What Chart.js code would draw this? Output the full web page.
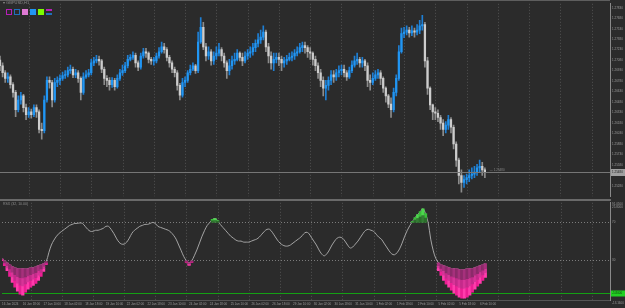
<!DOCTYPE html>
<html><head><meta charset="utf-8">
<script src="https://cdn.jsdelivr.net/npm/chart.js@4.4.1/dist/chart.umd.min.js"></script>
<style>
html,body{margin:0;padding:0;background:#2b2b2b;}
body{width:625px;height:308px;position:relative;overflow:hidden;font-family:"Liberation Sans",sans-serif;}
canvas{position:absolute;left:0;display:block}
#main{top:0}
#ind{top:199px}
.t{position:absolute;color:#8c8c8c;white-space:nowrap;line-height:1}
.sq{position:absolute;top:9px;width:6px;height:6px;box-sizing:border-box}
</style></head><body>
<canvas id="main" width="625" height="200"></canvas>
<canvas id="ind" width="625" height="109"></canvas>
<div style="position:absolute;left:0;top:199px;width:611px;height:2px;background:#6a6a6a"></div>
<div class="t" style="left:3px;top:1px;font-size:4px">▾ GBPUSD,H1</div>
<div class="sq" style="left:6px;border:1px solid #b81fb8"></div>
<div class="sq" style="left:14px;border:1px solid #1f70bd"></div>
<div class="sq" style="left:22px;background:#e07ad4"></div>
<div class="sq" style="left:30px;background:#2196f3"></div>
<div class="sq" style="left:38px;background:#7cfc00"></div>
<div class="sq" style="left:46px;height:2px;background:#b81fb8"></div>
<div class="sq" style="left:46px;top:13px;height:2px;background:#1f70bd"></div>
<div class="t" style="left:3px;top:202.5px;font-size:3.5px">RSX (32, 10.00)</div>
<script>
// ---------- data ----------
const priceTicks = [1.27830,1.27680,1.27530,1.27380,1.27230,1.27080,1.26930,1.26780,1.26630,1.26480,1.26330,1.26180,1.26030,1.25880,1.25730,1.25580,1.25430,1.25280];
const timeLabels = ["16 Jan 2024","16 Jan 18:00","17 Jan 10:00","18 Jan 02:00","18 Jan 18:00","19 Jan 10:00","22 Jan 02:00","22 Jan 18:00","23 Jan 10:00","24 Jan 02:00","24 Jan 18:00","25 Jan 10:00","26 Jan 02:00","26 Jan 18:00","29 Jan 10:00","30 Jan 02:00","30 Jan 18:00","31 Jan 10:00","1 Feb 02:00","1 Feb 18:00","2 Feb 10:00","5 Feb 02:00","5 Feb 18:00","6 Feb 10:00"];
const firstOpen = 1.2708;
const closes = [
1.2700,1.2690,1.2682,1.2684,1.2673,1.2662,1.2637,1.2651,1.2657,1.2640,1.2630,
1.2634,1.2630,1.2640,1.2634,1.2609,1.2607,1.2651,1.2679,1.2676,1.2651,1.2676,1.2679,
1.2682,1.2686,1.2687,1.2693,1.2695,1.2687,1.2690,1.2682,1.2662,1.2684,1.2687,1.2690,
1.2704,1.2707,1.2709,1.2707,1.2695,1.2682,1.2679,1.2673,1.2679,1.2670,1.2682,1.2690,
1.2693,1.2700,1.2709,1.2712,1.2715,1.2704,1.2698,1.2714,1.2720,1.2718,1.2709,1.2707,
1.2707,1.2714,1.2720,1.2727,1.2723,1.2712,1.2704,1.2695,1.2690,1.2672,1.2658,1.2676,
1.2679,1.2690,1.2695,1.2700,1.2693,1.2734,1.2755,1.2727,1.2714,1.2720,1.2707,1.2714,
1.2718,1.2723,1.2714,1.2704,1.2693,1.2700,1.2707,1.2709,1.2718,1.2712,1.2707,1.2714,
1.2718,1.2720,1.2726,1.2732,1.2737,1.2741,1.2748,1.2727,1.2714,1.2704,1.2709,1.2712,
1.2709,1.2704,1.2707,1.2709,1.2712,1.2714,1.2718,1.2720,1.2726,1.2729,1.2726,1.2720,
1.2718,1.2709,1.2700,1.2690,1.2679,1.2668,1.2672,1.2679,1.2687,1.2684,1.2690,1.2693,
1.2695,1.2690,1.2684,1.2693,1.2701,1.2707,1.2709,1.2704,1.2707,1.2700,1.2679,1.2676,
1.2682,1.2687,1.2690,1.2682,1.2668,1.2657,1.2645,1.2637,1.2662,1.2682,1.2720,1.2746,
1.2748,1.2751,1.2747,1.2750,1.2748,1.2751,1.2757,1.2759,1.2707,1.2668,1.2644,1.2634,
1.2632,1.2626,1.2618,1.2609,1.2615,1.2623,1.2612,1.2588,1.2565,1.2543,1.2533,1.2537,
1.2540,1.2543,1.2545,1.2548,1.2554,1.2556,1.2551,1.2548];
const highs = [
1.2714,1.2704,1.2693,1.2690,1.2687,1.2676,1.2665,1.2657,1.2662,1.2659,1.2645,
1.2640,1.2638,1.2644,1.2644,1.2637,1.2618,1.2657,1.2684,1.2684,1.2679,1.2682,1.2684,
1.2687,1.2691,1.2693,1.2698,1.2701,1.2698,1.2695,1.2693,1.2684,1.2690,1.2693,1.2695,
1.2709,1.2712,1.2715,1.2714,1.2709,1.2698,1.2686,1.2683,1.2683,1.2682,1.2687,1.2695,
1.2701,1.2705,1.2715,1.2716,1.2720,1.2718,1.2707,1.2718,1.2725,1.2725,1.2720,1.2712,
1.2712,1.2718,1.2726,1.2734,1.2732,1.2726,1.2715,1.2707,1.2698,1.2693,1.2675,1.2682,
1.2684,1.2693,1.2701,1.2704,1.2702,1.2748,1.2769,1.2762,1.2732,1.2727,1.2723,1.2720,
1.2727,1.2732,1.2726,1.2718,1.2707,1.2709,1.2714,1.2718,1.2723,1.2720,1.2718,1.2720,
1.2723,1.2727,1.2732,1.2737,1.2746,1.2751,1.2757,1.2751,1.2732,1.2720,1.2718,1.2718,
1.2718,1.2714,1.2712,1.2715,1.2718,1.2720,1.2723,1.2727,1.2732,1.2734,1.2734,1.2729,
1.2726,1.2720,1.2714,1.2704,1.2695,1.2684,1.2679,1.2684,1.2693,1.2693,1.2695,1.2700,
1.2701,1.2701,1.2693,1.2698,1.2707,1.2714,1.2718,1.2712,1.2712,1.2709,1.2704,1.2687,
1.2690,1.2693,1.2695,1.2693,1.2684,1.2670,1.2659,1.2654,1.2668,1.2687,1.2729,1.2754,
1.2755,1.2757,1.2755,1.2757,1.2754,1.2759,1.2765,1.2772,1.2762,1.2712,1.2670,1.2645,
1.2640,1.2637,1.2629,1.2623,1.2620,1.2629,1.2626,1.2615,1.2591,1.2568,1.2551,1.2543,
1.2545,1.2551,1.2554,1.2556,1.2559,1.2565,1.2562,1.2554];
const lows = [
1.2693,1.2684,1.2676,1.2676,1.2668,1.2655,1.2627,1.2634,1.2645,1.2634,1.2623,
1.2626,1.2625,1.2627,1.2626,1.2604,1.2595,1.2604,1.2648,1.2668,1.2641,1.2648,1.2670,
1.2673,1.2679,1.2682,1.2684,1.2689,1.2683,1.2683,1.2676,1.2651,1.2659,1.2682,1.2684,
1.2687,1.2700,1.2704,1.2701,1.2690,1.2673,1.2670,1.2665,1.2669,1.2665,1.2668,1.2679,
1.2686,1.2690,1.2697,1.2707,1.2709,1.2698,1.2693,1.2695,1.2711,1.2712,1.2704,1.2702,
1.2701,1.2704,1.2711,1.2718,1.2718,1.2707,1.2698,1.2690,1.2684,1.2665,1.2651,1.2655,
1.2670,1.2676,1.2687,1.2693,1.2689,1.2690,1.2732,1.2723,1.2707,1.2709,1.2701,1.2702,
1.2709,1.2714,1.2707,1.2698,1.2682,1.2687,1.2695,1.2702,1.2707,1.2707,1.2700,1.2704,
1.2709,1.2712,1.2715,1.2720,1.2727,1.2732,1.2737,1.2720,1.2704,1.2695,1.2693,1.2704,
1.2700,1.2693,1.2698,1.2702,1.2707,1.2707,1.2709,1.2714,1.2718,1.2720,1.2718,1.2712,
1.2709,1.2701,1.2693,1.2682,1.2670,1.2657,1.2651,1.2665,1.2673,1.2676,1.2679,1.2684,
1.2687,1.2684,1.2679,1.2682,1.2690,1.2698,1.2702,1.2698,1.2698,1.2693,1.2670,1.2665,
1.2673,1.2679,1.2682,1.2673,1.2662,1.2648,1.2640,1.2626,1.2634,1.2657,1.2679,1.2718,
1.2740,1.2744,1.2741,1.2743,1.2741,1.2744,1.2746,1.2751,1.2698,1.2659,1.2637,1.2623,
1.2623,1.2620,1.2609,1.2600,1.2604,1.2609,1.2604,1.2581,1.2556,1.2531,1.2519,1.2526,
1.2531,1.2534,1.2538,1.2540,1.2543,1.2548,1.2543,1.2540];
const rsx = [
31.1,28.9,26.8,24.7,22.6,21.6,20.5,20.5,20.5,20.5,20.5,
21.6,21.6,22.6,23.7,24.7,25.8,27.9,37.4,45.8,51.1,55.3,58.4,
60.5,62.6,64.7,66.8,67.9,68.9,68.9,69.5,68.9,65.8,62.6,60.5,
60.5,61.6,61.6,62.6,63.7,65.8,65.8,62.6,58.4,53.2,48.9,46.8,
46.8,48.9,53.2,58.4,61.6,63.7,65.8,66.8,67.9,67.9,68.9,70.0,
68.9,65.8,64.7,63.7,62.6,61.6,59.5,56.3,52.1,45.8,39.5,33.2,
28.9,26.8,28.9,34.2,40.5,47.9,55.3,61.6,66.8,70.0,73.2,74.2,
72.1,67.9,64.7,61.6,58.4,55.3,53.2,51.1,50.0,50.0,48.9,48.9,
48.9,50.0,51.1,52.1,54.2,57.4,60.5,62.6,62.6,59.5,55.3,51.1,
47.9,45.8,44.7,44.7,45.8,47.9,50.0,52.1,54.2,57.4,59.5,58.4,
54.2,50.0,45.8,40.5,36.3,34.2,36.3,40.5,45.8,50.0,53.2,54.2,
53.2,50.0,45.8,42.6,43.7,46.8,50.0,54.2,58.4,61.6,62.6,61.6,
60.5,57.4,54.2,52.1,47.9,43.7,39.5,36.3,35.3,37.4,41.6,47.9,
55.3,61.6,66.8,71.1,75.3,78.4,81.6,84.7,79.5,70.0,52.1,39.5,
31.1,26.8,24.7,23.7,22.6,21.6,20.5,20.5,20.5,19.5,19.5,19.5,
20.5,20.5,20.5,21.6,22.6,23.7,24.7,25.8];
const rsxDeepA = [28.9,23.7,18.4,12.1,5.8,0.5,-3.7,-6.8,-7.9,-4.7,-1.6,0.5,2.6,4.7,7.9,12.1,17.4,24.7];
const rsxDeepB = [27.0,24.0,27.0];
const rsxDeepC = [18.4,13.2,7.9,3.7,0.5,-2.6,-5.8,-7.9,-10.0,-11.1,-11.1,-10.0,-7.9,-4.7,-1.6,1.6,4.7,7.9,11.1];
const rsxDeep = [...rsxDeepA, ...Array(53).fill(null), ...rsxDeepB, ...Array(94).fill(null), ...rsxDeepC];
const rsxLevels = [70, 30];
const signalValue = -5.8;

// ---------- setup ----------
const N_SLOTS = 235;
const slots = Array.from({length:N_SLOTS},(_,i)=>String(i));
const opens = closes.map((c,i)=> i===0 ? firstOpen : closes[i-1]);
const up = closes.map((c,i)=> c>=opens[i]);
const isDayStart = s => (2*s+2)%24===0;
const FONT = 'Liberation Sans';

const gridPlugin = {id:'mtGrid', beforeDatasetsDraw(chart){
  const {ctx, chartArea:a, scales:{x}} = chart;
  ctx.save(); ctx.strokeStyle='#525252'; ctx.lineWidth=1; ctx.setLineDash([1,2]);
  for(let s=0;s<N_SLOTS;s++){ if(!isDayStart(s)) continue;
    const px=Math.round(x.getPixelForValue(s))+0.5;
    ctx.beginPath(); ctx.moveTo(px,a.top); ctx.lineTo(px,a.bottom); ctx.stroke(); }
  ctx.restore();
}};

const pricePlugin = {id:'mtPrice', afterDatasetsDraw(chart){
  const {ctx, chartArea:a, scales:{x,y}} = chart;
  const last = closes[closes.length-1];
  const py = Math.round(y.getPixelForValue(last))+0.5;
  ctx.save();
  ctx.strokeStyle='#767676'; ctx.lineWidth=1;
  ctx.beginPath(); ctx.moveTo(a.left,py); ctx.lineTo(a.right,py); ctx.stroke();
  ctx.strokeStyle='#5e5e5e';
  ctx.beginPath(); ctx.moveTo(0,0.5); ctx.lineTo(a.right,0.5); ctx.stroke();
  ctx.fillStyle='#a0a0a0'; ctx.fillRect(a.right+1, py-3.5, 14, 7);
  ctx.font='3px "'+FONT+'"'; ctx.textBaseline='middle'; ctx.textAlign='left';
  ctx.fillStyle='#1c1c1c'; ctx.fillText(last.toFixed(5), a.right+2, py);
  const lx = x.getPixelForValue(closes.length-1)+5;
  ctx.fillStyle='#8a8a8a'; ctx.fillText('— '+last.toFixed(5), lx, py-2);
  ctx.restore();
}};

new Chart(document.getElementById('main'), {
  type:'bar',
  data:{labels:slots, datasets:[
    {data: closes.map((c,i)=>[Math.min(lows[i],opens[i],c), Math.max(highs[i],opens[i],c)]),
     backgroundColor: up.map(u=>u?'#1e7fd4':'#8c8c8c'), barThickness:1, grouped:false, order:2},
    {data: closes.map((c,i)=>[opens[i], c]),
     backgroundColor: up.map(u=>u?'#2196f3':'#cdcdcd'), barThickness:1.6, minBarLength:1, grouped:false, order:1}
  ]},
  options:{responsive:false, animation:false, events:[],
    layout:{padding:{top:1,bottom:1,left:0,right:0}},
    plugins:{legend:{display:false}, tooltip:{enabled:false}},
    scales:{
      x:{type:'category', display:false, offset:false},
      y:{position:'right', min:1.251339, max:1.278861,
         afterBuildTicks:s=>{s.ticks = priceTicks.map(v=>({value:v}));},
         afterFit:s=>{s.width=15;},
         grid:{display:false, drawTicks:false},
         border:{display:true, color:'#8a8a8a', width:1},
         ticks:{padding:2, color:'#9a9a9a', font:{size:3, family:FONT}, callback:v=>Number(v).toFixed(5)}}
    }},
  plugins:[gridPlugin, pricePlugin]
});

const indPlugin = {id:'mtInd', beforeDatasetsDraw(chart){
  const {ctx, chartArea:a, scales:{y}} = chart;
  ctx.save(); ctx.strokeStyle='#7c7c7c'; ctx.lineWidth=1; ctx.setLineDash([1,2]);
  rsxLevels.forEach(v=>{ const py=Math.round(y.getPixelForValue(v))+0.5;
    ctx.beginPath(); ctx.moveTo(a.left,py); ctx.lineTo(a.right,py); ctx.stroke(); });
  ctx.setLineDash([]);
  const gy=Math.round(y.getPixelForValue(signalValue))+0.5;
  ctx.strokeStyle='#14a014'; ctx.beginPath(); ctx.moveTo(a.left,gy); ctx.lineTo(a.right,gy); ctx.stroke();
  ctx.strokeStyle='#555'; ctx.beginPath(); ctx.moveTo(0,a.bottom+0.5); ctx.lineTo(a.right,a.bottom+0.5); ctx.stroke();
  ctx.restore();
}, afterDatasetsDraw(chart){
  const {ctx, chartArea:a, scales:{y}} = chart;
  const gy=Math.round(y.getPixelForValue(signalValue))+0.5;
  ctx.save();
  ctx.fillStyle='#22d022'; ctx.fillRect(a.right+1, gy-3, 14, 6);
  ctx.font='3px "'+FONT+'"'; ctx.textBaseline='middle'; ctx.textAlign='left';
  ctx.fillStyle='#0c3c0c'; ctx.fillText(signalValue.toFixed(4), a.right+2, gy);
  ctx.fillStyle='#9a9a9a';
  ctx.fillText(y.max.toFixed(4), a.right+2, a.top+1.5);
  ctx.fillText(rsx[rsx.length-1].toFixed(4), a.right+2, a.top+4.5);
  ctx.fillText(y.min.toFixed(4), a.right+2, a.bottom+3);
  ctx.restore();
}};

const pinkLayers = [[0,0.35,'#8c2a6a','#a6307c'],[0.35,0.65,'#c42a8a','#d83498'],[0.65,1,'#ec1e94','#ff3cac']];
const greenLayers = [[0,0.5,'#2b6d2b','#347d34'],[0.5,1,'#3abd3a','#4dd64d']];
const bandBase = {type:'bar', barPercentage:1, categoryPercentage:1, grouped:false, order:1};
const pinkSets = pinkLayers.map(([f0,f1,ca,cb])=>Object.assign({}, bandBase, {
  data: rsx.map((v,i)=> rsxDeep[i]==null ? null : [v-(v-rsxDeep[i])*f1, v-(v-rsxDeep[i])*f0]),
  backgroundColor: rsx.map((_,i)=> i%2?ca:cb)}));
const greenSets = greenLayers.map(([f0,f1,ca,cb])=>Object.assign({}, bandBase, {
  data: rsx.map(v=> v>rsxLevels[0] ? [rsxLevels[0]+(v-rsxLevels[0])*f0, rsxLevels[0]+(v-rsxLevels[0])*f1] : null),
  backgroundColor: rsx.map((_,i)=> i%2?ca:cb)}));

new Chart(document.getElementById('ind'), {
  type:'bar',
  data:{labels:slots, datasets:[
    {type:'line', data:rsx, borderColor:'#a4a4a4', borderWidth:1, pointRadius:0, tension:0.35, order:5},
    ...pinkSets, ...greenSets
  ]},
  options:{responsive:false, animation:false, events:[],
    layout:{padding:{top:2,bottom:0,left:0,right:0}},
    plugins:{legend:{display:false}, tooltip:{enabled:false}},
    scales:{
      x:{type:'category', offset:false, afterFit:s=>{s.height=8;},
         grid:{display:false, drawTicks:false}, border:{display:false},
         ticks:{autoSkip:false, maxRotation:0, minRotation:0, align:'start', padding:2, color:'#9a9a9a',
                font:{size:3, family:FONT},
                callback:(v,i)=> (i%8===0 && i/8<timeLabels.length) ? timeLabels[i/8] : ''}},
      y:{position:'right', min:-13.16, max:91.05,
         afterBuildTicks:s=>{s.ticks = rsxLevels.map(v=>({value:v}));},
         afterFit:s=>{s.width=15;},
         grid:{display:false, drawTicks:false},
         border:{display:true, color:'#8a8a8a', width:1},
         ticks:{padding:2, color:'#9a9a9a', font:{size:3, family:FONT}, callback:v=>String(v)}}
    }},
  plugins:[gridPlugin, indPlugin]
});
</script>
</body></html>
